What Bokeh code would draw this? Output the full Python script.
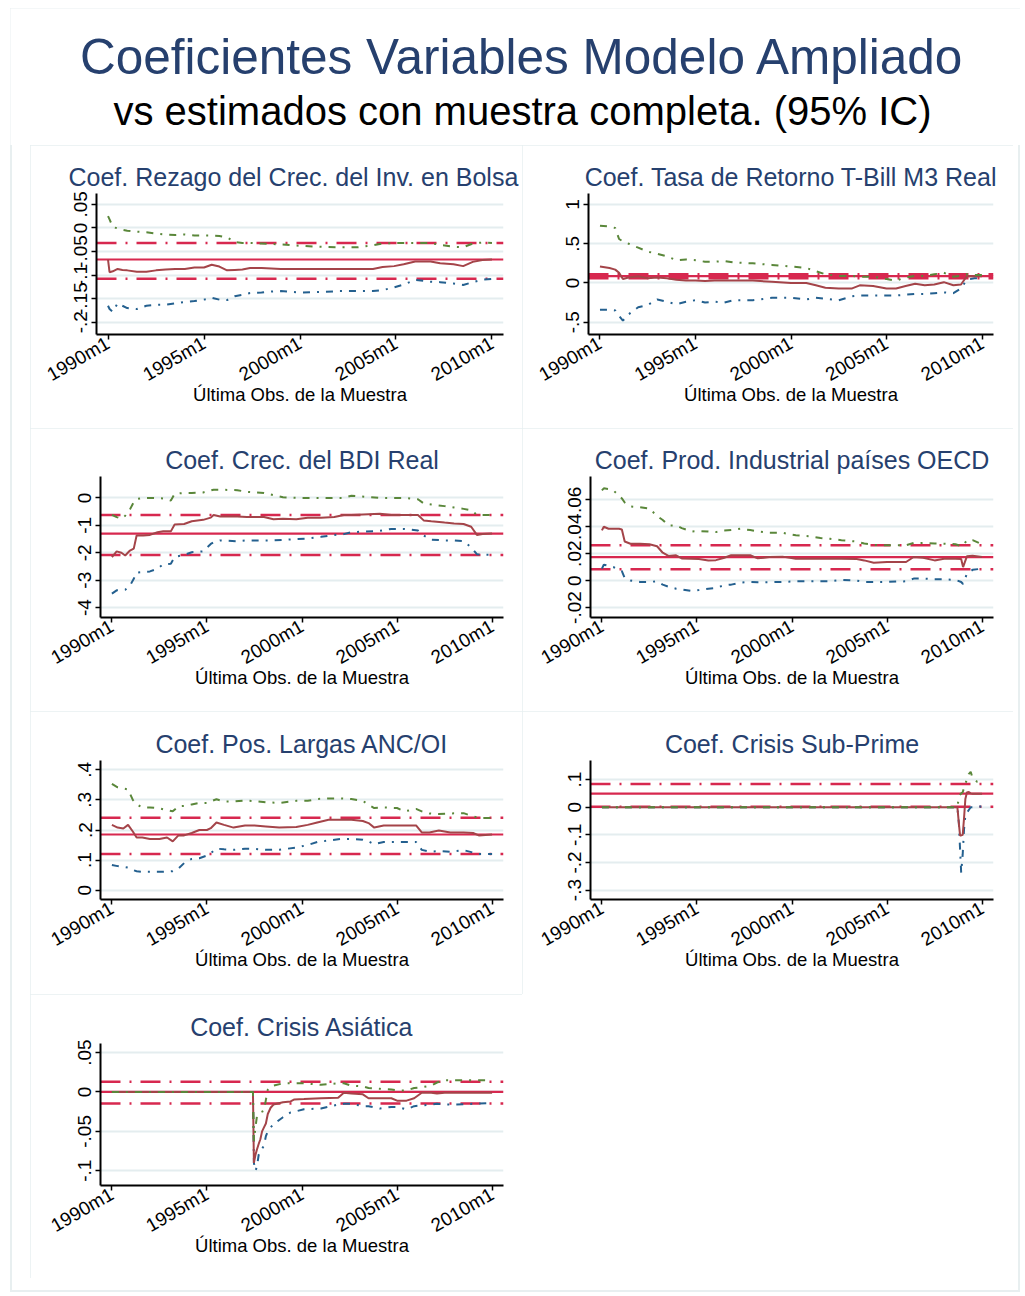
import math
from bokeh.plotting import figure
from bokeh.models import Range1d, FixedTicker, Span, Label, Spacer
from bokeh.layouts import column, row
from bokeh.embed import file_html
from bokeh.resources import INLINE

FONT = "Liberation Sans"
NAVY = "#26406e"
BLUE = "#24608f"
MAROON = "#a44449"
GREEN = "#5a873a"
CRIMSON = "#d7284f"
GRID = "#e4edef"

main_title = "Coeficientes Variables Modelo Ampliado"
sub_title = "vs estimados con muestra completa. (95% IC)"
x_title = "Última Obs. de la Muestra"

x_ticks = [1990, 1995, 2000, 2005, 2010]
x_tick_labels = ["1990m1", "1995m1", "2000m1", "2005m1", "2010m1"]

# ---------------- Panel 1: Rezago del Crec. del Inv. en Bolsa
p1_title = "Coef. Rezago del Crec. del Inv. en Bolsa"
p1_dates = [1990.0, 1990.08, 1990.25, 1990.5, 1990.75, 1991.0, 1991.5, 1992.0, 1992.5, 1993.0,
            1993.5, 1994.0, 1994.5, 1995.0, 1995.4, 1995.8, 1996.2, 1996.6, 1997.0, 1997.4,
            1998.0, 1998.5, 1999.0, 2000.0, 2001.0, 2002.0, 2003.0, 2003.8, 2004.3, 2004.9,
            2005.4, 2006.0, 2006.8, 2007.3, 2008.0, 2008.5, 2009.0, 2009.5, 2010.0]
p1_coef = [-0.067, -0.094, -0.092, -0.087, -0.089, -0.090, -0.093, -0.093, -0.090, -0.088,
           -0.087, -0.087, -0.084, -0.084, -0.078, -0.082, -0.090, -0.089, -0.088, -0.085,
           -0.085, -0.086, -0.087, -0.087, -0.087, -0.087, -0.087, -0.087, -0.083, -0.081,
           -0.077, -0.071, -0.071, -0.075, -0.077, -0.081, -0.072, -0.068, -0.067]
p1_hi = [0.025, 0.018, 0.002, -0.001, -0.004, -0.006, -0.008, -0.009, -0.012, -0.014,
         -0.015, -0.014, -0.016, -0.016, -0.016, -0.017, -0.020, -0.030, -0.032, -0.032,
         -0.033, -0.034, -0.035, -0.038, -0.040, -0.041, -0.041, -0.037, -0.033, -0.032,
         -0.032, -0.032, -0.032, -0.036, -0.040, -0.041, -0.033, -0.031, -0.032]
p1_lo = [-0.165, -0.172, -0.178, -0.160, -0.165, -0.170, -0.172, -0.165, -0.163, -0.163,
         -0.160, -0.157, -0.155, -0.152, -0.148, -0.152, -0.153, -0.145, -0.142, -0.138,
         -0.137, -0.135, -0.134, -0.137, -0.136, -0.134, -0.134, -0.134, -0.132, -0.126,
         -0.120, -0.110, -0.114, -0.115, -0.118, -0.121, -0.115, -0.110, -0.108]
p1_full = [-0.108, -0.067, -0.032]
p1_yticks = [-0.2, -0.15, -0.1, -0.05, 0, 0.05]
p1_ylabels = ["-.2", "-.15", "-.1", "-.05", "0", ".05"]

# ---------------- Panel 2: Tasa de Retorno T-Bill M3 Real
p2_title = "Coef. Tasa de Retorno T-Bill M3 Real"
p2_dates = [1990.0, 1990.5, 1990.8, 1991.0, 1991.2, 1991.5, 1992.0, 1992.5, 1993.0, 1993.5,
            1994.0, 1994.5, 1995.0, 1995.5, 1996.0, 1996.5, 1997.0, 1998.0, 1999.0, 2000.0,
            2000.8, 2001.3, 2001.8, 2002.5, 2003.2, 2003.6, 2004.3, 2005.0, 2005.5, 2006.0,
            2006.5, 2007.0, 2007.5, 2008.0, 2008.5, 2008.9, 2009.2, 2009.6, 2010.0]
p2_coef = [0.21, 0.19, 0.17, 0.13, 0.05, 0.07, 0.085, 0.06, 0.07, 0.06,
           0.04, 0.03, 0.03, 0.025, 0.03, 0.03, 0.03, 0.03, 0.015, 0.0,
           0.0, -0.03, -0.06, -0.07, -0.07, -0.03, -0.04, -0.07, -0.07, -0.04,
           -0.01, -0.03, -0.02, 0.01, -0.03, -0.02, 0.085, 0.085, 0.085]
p2_hi = [0.73, 0.72, 0.70, 0.56, 0.53, 0.50, 0.45, 0.40, 0.37, 0.34,
         0.29, 0.30, 0.29, 0.27, 0.27, 0.28, 0.26, 0.25, 0.23, 0.21,
         0.19, 0.15, 0.11, 0.09, 0.09, 0.08, 0.08, 0.05, 0.03, 0.07,
         0.09, 0.09, 0.11, 0.13, 0.08, 0.09, 0.11, 0.10, 0.10]
p2_lo = [-0.34, -0.34, -0.35, -0.42, -0.48, -0.40, -0.31, -0.28, -0.21, -0.24,
         -0.27, -0.24, -0.22, -0.25, -0.24, -0.25, -0.22, -0.22, -0.19, -0.19,
         -0.21, -0.19, -0.20, -0.22, -0.17, -0.16, -0.16, -0.16, -0.16, -0.15,
         -0.14, -0.14, -0.13, -0.12, -0.13, -0.07, 0.04, 0.06, 0.06]
p2_full = [0.06, 0.087, 0.11]
p2_yticks = [-0.5, 0, 0.5, 1]
p2_ylabels = ["-.5", "0", ".5", "1"]

# ---------------- Panel 3: Crec. del BDI Real
p3_title = "Coef. Crec. del BDI Real"
p3_dates = [1990.0, 1990.25, 1990.5, 1990.7, 1990.95, 1991.15, 1991.3, 1991.65, 1992.0, 1992.4,
            1992.7, 1993.1, 1993.3, 1993.8, 1994.2, 1994.8, 1995.2, 1995.35, 1995.7, 1996.6,
            1997.1, 1998.0, 1998.5, 1999.0, 1999.7, 2000.3, 2001.0, 2001.7, 2002.2, 2002.6,
            2004.1, 2004.7, 2005.4, 2006.1, 2006.4, 2006.8, 2007.5, 2008.0, 2008.5, 2008.9,
            2009.2, 2009.5, 2010.0]
p3_coef = [-2.16, -1.95, -2.00, -2.10, -1.92, -1.85, -1.37, -1.37, -1.35, -1.25,
           -1.22, -1.22, -0.97, -0.95, -0.85, -0.80, -0.72, -0.62, -0.68, -0.68,
           -0.70, -0.70, -0.78, -0.76, -0.78, -0.72, -0.72, -0.70, -0.62, -0.62,
           -0.58, -0.62, -0.62, -0.62, -0.82, -0.85, -0.90, -0.93, -0.95, -1.05,
           -1.35, -1.32, -1.30]
p3_hi = [-0.62, -0.70, -0.76, -0.65, -0.42, -0.15, -0.04, 0.0, 0.0, 0.0,
         -0.02, -0.10, 0.15, 0.18, 0.18, 0.20, 0.27, 0.30, 0.30, 0.28,
         0.22, 0.18, 0.10, 0.02, 0.0, 0.0, 0.0, 0.0, 0.0, 0.08,
         0.0, 0.0, 0.0, -0.05, -0.20, -0.24, -0.30, -0.35, -0.40, -0.45,
         -0.62, -0.62, -0.62]
p3_lo = [-3.49, -3.37, -3.37, -3.35, -3.20, -2.95, -2.72, -2.70, -2.68, -2.58,
         -2.42, -2.40, -2.15, -2.08, -1.98, -1.95, -1.68, -1.62, -1.55, -1.58,
         -1.55, -1.55, -1.55, -1.53, -1.50, -1.48, -1.42, -1.35, -1.32, -1.25,
         -1.20, -1.13, -1.13, -1.19, -1.37, -1.52, -1.55, -1.55, -1.58, -1.80,
         -2.05, -2.07, -2.08]
p3_full = [-2.08, -1.30, -0.62]
p3_yticks = [-4, -3, -2, -1, 0]
p3_ylabels = ["-4", "-3", "-2", "-1", "0"]

# ---------------- Panel 4: Prod. Industrial países OECD
p4_title = "Coef. Prod. Industrial países OECD"
p4_dates = [1990.0, 1990.1, 1990.35, 1990.6, 1990.9, 1991.05, 1991.2, 1991.5, 1992.0, 1992.5,
            1992.9, 1993.2, 1993.5, 1993.9, 1994.2, 1994.7, 1995.1, 1995.6, 1996.0, 1996.4,
            1996.8, 1997.3, 1997.8, 1998.2, 1998.8, 1999.5, 2000.2, 2000.9, 2001.5, 2002.0,
            2002.6, 2003.4, 2003.8, 2004.3, 2005.0, 2006.0, 2006.4, 2006.9, 2007.5, 2008.0,
            2008.6, 2008.9, 2009.0, 2009.2, 2009.5, 2010.0]
p4_coef = [0.0373, 0.0400, 0.0385, 0.0385, 0.0385, 0.0380, 0.0290, 0.0274, 0.0274, 0.0270,
           0.0255, 0.0207, 0.0183, 0.0188, 0.0165, 0.0163, 0.0160, 0.0150, 0.0152, 0.0168,
           0.0188, 0.0188, 0.0188, 0.0165, 0.0175, 0.0178, 0.0163, 0.0163, 0.0163, 0.0163,
           0.0163, 0.0160, 0.0150, 0.0132, 0.0138, 0.0138, 0.0175, 0.0170, 0.0150, 0.0163,
           0.0163, 0.0160, 0.0100, 0.0180, 0.0185, 0.0175]
p4_hi = [0.0670, 0.0685, 0.0680, 0.0670, 0.0630, 0.0610, 0.0580, 0.0550, 0.0545, 0.0535,
         0.0480, 0.0450, 0.0410, 0.0410, 0.0390, 0.0365, 0.0368, 0.0365, 0.0360, 0.0372,
         0.0375, 0.0385, 0.0375, 0.0365, 0.0355, 0.0355, 0.0336, 0.0330, 0.0316, 0.0310,
         0.0300, 0.0290, 0.0275, 0.0265, 0.0262, 0.0262, 0.0279, 0.0280, 0.0275, 0.0274,
         0.0270, 0.0257, 0.0260, 0.0300, 0.0300, 0.0270]
p4_lo = [0.0089, 0.0118, 0.0110, 0.0101, 0.0080, 0.0070, 0.0020, 0.0000, -0.0010, -0.0010,
         -0.0005, -0.0030, -0.0045, -0.0060, -0.0065, -0.0077, -0.0070, -0.0060, -0.0055, -0.0035,
         -0.0030, -0.0015, -0.0010, -0.0012, -0.0012, -0.0010, -0.0005, -0.0005, -0.0005, -0.0005,
         0.0005, 0.0000, -0.0010, -0.0010, -0.0010, -0.0005, 0.0015, 0.0015, 0.0010, 0.0010,
         0.0005, -0.0010, -0.0025, 0.0050, 0.0080, 0.0089]
p4_full = [0.0084, 0.0175, 0.0262]
p4_yticks = [-0.02, 0, 0.02, 0.04, 0.06]
p4_ylabels = ["-.02", "0", ".02", ".04", ".06"]

# ---------------- Panel 5: Pos. Largas ANC/OI
p5_title = "Coef. Pos. Largas ANC/OI"
p5_dates = [1990.0, 1990.3, 1990.6, 1990.85, 1991.1, 1991.3, 1991.6, 1992.0, 1992.5, 1992.9,
            1993.2, 1993.5, 1993.8, 1994.2, 1994.6, 1995.0, 1995.2, 1995.5, 1995.9, 1996.4,
            1997.0, 1997.5, 1998.1, 1998.8, 1999.7, 2000.3, 2000.8, 2001.4, 2002.0, 2002.6,
            2003.2, 2003.5, 2003.8, 2004.3, 2005.0, 2005.4, 2006.0, 2006.3, 2006.7, 2007.2,
            2007.8, 2008.5, 2009.0, 2009.3, 2010.0]
p5_coef = [0.217, 0.208, 0.205, 0.217, 0.195, 0.175, 0.175, 0.170, 0.170, 0.175,
           0.162, 0.182, 0.182, 0.190, 0.200, 0.200, 0.206, 0.225, 0.217, 0.208,
           0.215, 0.215, 0.212, 0.208, 0.210, 0.217, 0.225, 0.234, 0.234, 0.234,
           0.230, 0.223, 0.208, 0.215, 0.215, 0.215, 0.215, 0.192, 0.192, 0.198,
           0.192, 0.192, 0.190, 0.182, 0.185]
p5_hi = [0.353, 0.342, 0.338, 0.335, 0.300, 0.285, 0.275, 0.275, 0.272, 0.266,
         0.262, 0.279, 0.280, 0.285, 0.290, 0.290, 0.295, 0.302, 0.295, 0.295,
         0.298, 0.296, 0.292, 0.290, 0.297, 0.297, 0.303, 0.305, 0.305, 0.303,
         0.297, 0.284, 0.273, 0.275, 0.273, 0.262, 0.270, 0.262, 0.255, 0.253,
         0.255, 0.256, 0.245, 0.240, 0.240]
p5_lo = [0.084, 0.080, 0.078, 0.075, 0.067, 0.063, 0.061, 0.061, 0.061, 0.062,
         0.063, 0.072, 0.090, 0.104, 0.106, 0.115, 0.123, 0.138, 0.136, 0.134,
         0.138, 0.137, 0.134, 0.134, 0.142, 0.150, 0.160, 0.165, 0.170, 0.170,
         0.168, 0.162, 0.153, 0.160, 0.160, 0.160, 0.160, 0.134, 0.128, 0.130,
         0.128, 0.133, 0.125, 0.120, 0.120]
p5_full = [0.120, 0.185, 0.241]
p5_yticks = [0, 0.1, 0.2, 0.3, 0.4]
p5_ylabels = ["0", ".1", ".2", ".3", ".4"]

# ---------------- Panel 6: Crisis Sub-Prime
p6_title = "Coef. Crisis Sub-Prime"
p6_dates = [1990.0, 2008.7, 2008.78, 2008.84, 2008.9, 2008.98, 2009.05, 2009.12, 2009.2, 2009.3,
            2009.4, 2009.5, 2009.6, 2009.75, 2010.0]
p6_coef = [0.0, 0.0, -0.06, -0.102, -0.102, -0.100, -0.04, 0.03, 0.053, 0.055,
           0.050, 0.049, 0.049, 0.049, 0.049]
p6_hi = [0.0, 0.0, 0.036, 0.045, 0.050, 0.054, 0.070, 0.085, 0.100, 0.120,
         0.128, 0.105, 0.098, 0.092, 0.090]
p6_lo = [0.0, 0.0, -0.06, -0.15, -0.237, -0.17, -0.08, -0.03, -0.02, -0.01,
         0.0, 0.0, 0.002, 0.002, 0.003]
p6_full = [0.002, 0.049, 0.084]
p6_yticks = [-0.3, -0.2, -0.1, 0, 0.1]
p6_ylabels = ["-.3", "-.2", "-.1", "0", ".1"]

# ---------------- Panel 7: Crisis Asiática
p7_title = "Coef. Crisis Asiática"
p7_dates = [1990.0, 1997.42, 1997.47, 1997.55, 1997.63, 1997.72, 1997.81, 1997.9, 1998.0, 1998.1,
            1998.2, 1998.35, 1998.5, 1999.0, 1999.4, 1999.6, 2000.1, 2001.0, 2001.9, 2002.2,
            2002.6, 2003.2, 2003.5, 2004.1, 2004.7, 2005.0, 2005.5, 2005.9, 2006.3, 2006.8,
            2007.1, 2007.5, 2008.0, 2009.0, 2010.0]
p7_coef = [0.0, 0.0, -0.090, -0.080, -0.073, -0.066, -0.060, -0.050, -0.045, -0.040,
           -0.028, -0.020, -0.016, -0.013, -0.012, -0.0095, -0.009, -0.008, -0.0074, -0.001,
           -0.002, -0.003, -0.008, -0.008, -0.008, -0.011, -0.011, -0.008, -0.001, -0.001,
           -0.002, -0.001, -0.001, -0.001, -0.001]
p7_hi = [0.0, 0.0, -0.062, -0.045, -0.031, -0.028, -0.026, -0.025, -0.024, -0.010,
         0.003, 0.007, 0.008, 0.011, 0.011, 0.011, 0.011, 0.009, 0.011, 0.011,
         0.008, 0.007, 0.005, 0.004, 0.003, 0.002, 0.002, 0.005, 0.006, 0.008,
         0.012, 0.015, 0.015, 0.015, 0.015]
p7_lo = [0.0, 0.0, -0.090, -0.100, -0.095, -0.080, -0.075, -0.072, -0.068, -0.056,
         -0.050, -0.045, -0.041, -0.032, -0.026, -0.025, -0.022, -0.021, -0.016, -0.015,
         -0.015, -0.018, -0.018, -0.021, -0.019, -0.019, -0.022, -0.018, -0.017, -0.016,
         -0.015, -0.016, -0.016, -0.015, -0.014]
p7_full = [-0.0146, 0.0, 0.013]
p7_yticks = [-0.1, -0.05, 0, 0.05]
p7_ylabels = ["-.1", "-.05", "0", ".05"]


def key(v):
    return int(v) if float(v).is_integer() else v


PANEL_OUTLINE = {"outline": "2px solid #e7eff0", "outline-offset": "-2px"}


def make_panel(title, dates, lo, coef, hi, full, yticks, ylabels, yrange,
               w, h, bl, br, bt, bb, title_align="center", title_offset=0):
    p = figure(width=w, height=h, x_range=Range1d(1989.4, 2010.6), y_range=Range1d(*yrange),
               output_backend="svg", toolbar_location=None,
               min_border_left=bl, min_border_right=br, min_border_top=bt, min_border_bottom=bb,
               background_fill_color="white", border_fill_color="white", outline_line_color=None,
               title=title)
    p.styles = PANEL_OUTLINE
    p.title.text_font = FONT
    p.title.text_font_size = "25px"
    p.title.text_font_style = "normal"
    p.title.text_color = NAVY
    p.title.align = title_align
    p.title.offset = title_offset
    p.title.standoff = 6

    p.xgrid.visible = False
    p.ygrid.grid_line_color = GRID
    p.ygrid.grid_line_width = 2

    for ax in (p.xaxis[0], p.yaxis[0]):
        ax.axis_line_color = "black"
        ax.axis_line_width = 2
        ax.major_tick_line_color = "black"
        ax.major_tick_line_width = 1.5
        ax.major_tick_in = 0
        ax.major_tick_out = 5
        ax.minor_tick_line_color = None
        ax.major_label_text_font = FONT
        ax.major_label_text_font_size = "19px"
        ax.major_label_text_color = "black"

    p.xaxis.ticker = FixedTicker(ticks=x_ticks, minor_ticks=[])
    p.xaxis.major_label_overrides = {key(t): s for t, s in zip(x_ticks, x_tick_labels)}
    p.xaxis.major_label_orientation = math.pi / 6
    p.xaxis.major_label_standoff = 2
    p.xaxis.axis_label = x_title
    p.xaxis.axis_label_text_font = FONT
    p.xaxis.axis_label_text_font_size = "18.5px"
    p.xaxis.axis_label_text_font_style = "normal"
    p.xaxis.axis_label_text_color = "black"
    p.xaxis.axis_label_standoff = -13

    p.yaxis.ticker = FixedTicker(ticks=yticks, minor_ticks=[])
    p.yaxis.major_label_overrides = {key(t): s for t, s in zip(yticks, ylabels)}
    p.yaxis.major_label_orientation = "vertical"
    p.yaxis.major_label_standoff = 4

    f_lo, f_est, f_hi = full
    p.add_layout(Span(location=f_hi, dimension="width", line_color=CRIMSON, line_width=2.5,
                      line_dash="20 9 2 9", level="underlay"))
    p.add_layout(Span(location=f_lo, dimension="width", line_color=CRIMSON, line_width=2.5,
                      line_dash="20 9 2 9", level="underlay"))
    p.add_layout(Span(location=f_est, dimension="width", line_color=CRIMSON, line_width=2.2,
                      level="underlay"))

    p.line(dates, lo, line_color=BLUE, line_width=2, line_dash="7 7 2 7")
    p.line(dates, coef, line_color=MAROON, line_width=2)
    p.line(dates, hi, line_color=GREEN, line_width=2, line_dash="7 7 2 7")
    return p


p1 = make_panel(p1_title, p1_dates, p1_lo, p1_coef, p1_hi, p1_full, p1_yticks, p1_ylabels,
                (-0.226, 0.073), 492, 283, 66, 19, 48, 94,
                title_align="left", title_offset=-28)
p2 = make_panel(p2_title, p2_dates, p2_lo, p2_coef, p2_hi, p2_full, p2_yticks, p2_ylabels,
                (-0.657, 1.14), 491, 283, 66, 20, 48, 94)
p3 = make_panel(p3_title, p3_dates, p3_lo, p3_coef, p3_hi, p3_full, p3_yticks, p3_ylabels,
                (-4.36, 0.78), 492, 283, 70, 19, 48, 94)
p4 = make_panel(p4_title, p4_dates, p4_lo, p4_coef, p4_hi, p4_full, p4_yticks, p4_ylabels,
                (-0.0274, 0.0773), 491, 283, 68, 20, 48, 94)
p5 = make_panel(p5_title, p5_dates, p5_lo, p5_coef, p5_hi, p5_full, p5_yticks, p5_ylabels,
                (-0.031, 0.431), 492, 283, 70, 19, 49, 95)
p6 = make_panel(p6_title, p6_dates, p6_lo, p6_coef, p6_hi, p6_full, p6_yticks, p6_ylabels,
                (-0.334, 0.169), 491, 283, 68, 20, 49, 95)
p7 = make_panel(p7_title, p7_dates, p7_lo, p7_coef, p7_hi, p7_full, p7_yticks, p7_ylabels,
                (-0.1187, 0.0615), 492, 284, 70, 19, 49, 93)

HEADER_W, HEADER_H = 1010, 137
header = figure(width=HEADER_W, height=HEADER_H, x_range=Range1d(0, HEADER_W),
                y_range=Range1d(0, HEADER_H), title=None,
                output_backend="svg", toolbar_location=None, min_border=0,
                x_axis_location=None, y_axis_location=None, outline_line_color=None,
                background_fill_color="white", border_fill_color="white")
header.grid.visible = False
header.add_layout(Label(x=512, y=89, text=main_title, text_align="center",
                        text_baseline="middle", text_font=FONT, text_font_size="49.5px",
                        text_color=NAVY))
header.add_layout(Label(x=512, y=35, text=sub_title, text_align="center",
                        text_baseline="middle", text_font=FONT, text_font_size="40px",
                        text_color="black"))

inner = column(
    header,
    row(Spacer(width=20, height=283), p1, p2),
    row(Spacer(width=20, height=283), p3, p4),
    row(Spacer(width=20, height=283), p5, p6),
    row(Spacer(width=20, height=284), p7),
    Spacer(width=HEADER_W, height=14),
)
inner.styles = {"outline": "2px solid #e8eff0", "outline-offset": "-2px"}

page = column(Spacer(width=1020, height=8), row(Spacer(width=10, height=1284), inner))

open("out.html", "w").write(file_html(page, INLINE))
